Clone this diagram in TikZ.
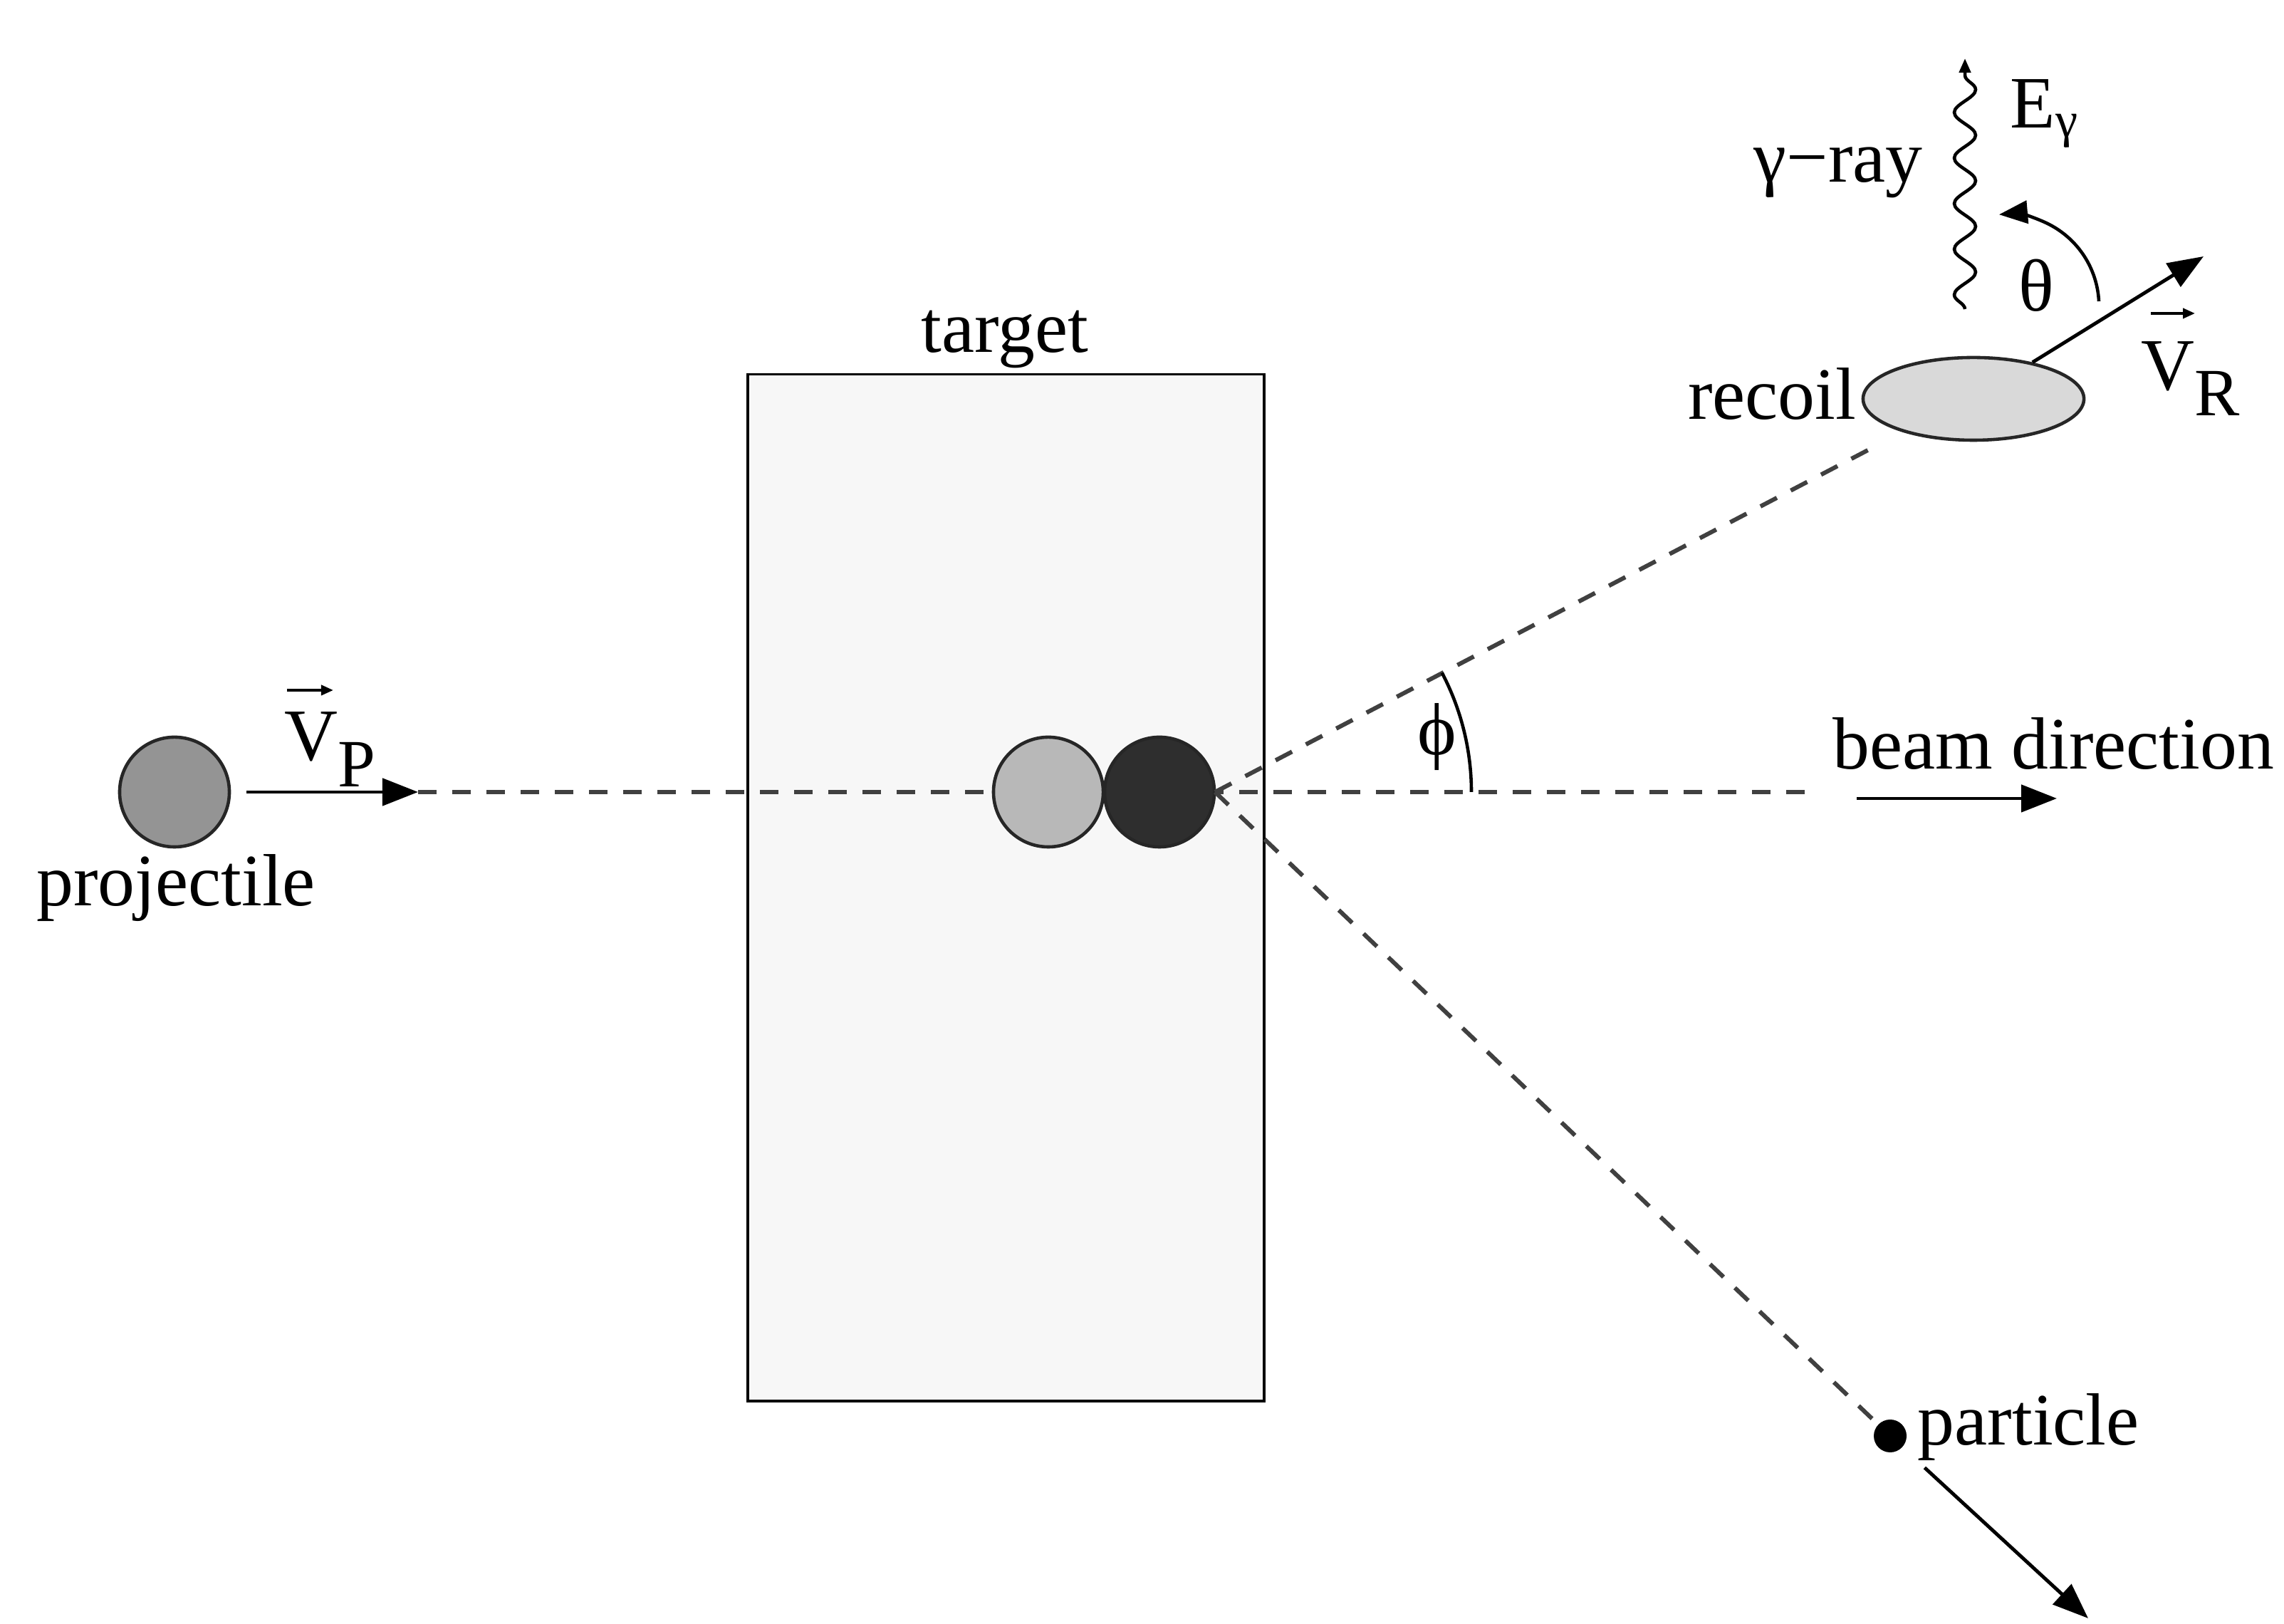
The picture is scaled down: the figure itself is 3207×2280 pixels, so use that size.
\documentclass[tikz,border=0pt]{standalone}
\usepackage{fontspec}
\setmainfont{Liberation Serif}
\usetikzlibrary{arrows.meta,decorations.pathmorphing,shapes.geometric}
\begin{document}
\begin{tikzpicture}[x=0.01cm,y=0.01cm,
  lbl/.style={font=\fontsize{29.5}{35}\selectfont, inner sep=0pt},
  ball/.style={circle, draw=black!85, line width=1.3pt, minimum size=1.54cm, inner sep=0pt},
  traj/.style={dash pattern=on 0.26cm off 0.22cm, line width=1.7pt, draw=black!75},
  vel/.style={line width=1.4pt, -{Triangle[length=0.5cm,width=0.38cm]}},
  vecarr/.style={line width=1.1pt, -{Triangle[length=0.17cm,width=0.14cm]}},
  thin/.style={line width=1.3pt}
]
\useasboundingbox[fill=white] (0,0) rectangle (3207,2280);

% target
\node[draw, line width=1.1pt, fill=black!3, minimum width=7.25cm, minimum height=14.41cm, inner sep=0pt] (target) at (1412.5,1033.5) {};
\node[lbl, anchor=base] (tlabel) at (1411,1785) {target};

% beam line
\coordinate (pv) at (587,1168);
\coordinate (beamend) at (2536,1168);
\draw[traj] (pv) -- (beamend);

% projectile
\node[ball, fill=black!42] (proj) at (245,1168) {};
\draw[vel, shorten <=0.22cm] (proj) -- (pv);
\node[lbl, anchor=base] (projlabel) at (247,1008) {projectile};
\node[lbl, anchor=base west] (vp) at (399,1212) {V\raisebox{-0.35em}{\fontsize{27}{30}\selectfont P}};
\coordinate (vpa) at (403,1311);
\coordinate (vpb) at (468,1311);
\draw[vecarr] (vpa) -- (vpb);

% nuclei in target
\node[ball, fill=black!28] (tnuc) at (1472,1168) {};
\node[ball, fill=black!82] (cnuc) at (1628,1168) {};
\coordinate (O) at (1706,1168);

% recoil
\node[ellipse, draw=black!85, line width=1.3pt, fill=black!15, minimum width=3.1cm, minimum height=1.16cm, inner sep=0pt] (recoil) at (2771,1720) {};
\node[lbl, anchor=base east] (rlabel) at (2607,1691) {recoil};
\coordinate (rend) at (2638,1656);
\draw[traj] (O) -- (rend);

% particle
\node[circle, fill=black, minimum size=0.46cm, inner sep=0pt] (part) at (2654,264) {};
\draw[traj, shorten >=0.06cm] (O) -- (part);
\node[lbl, anchor=base west] (plabel) at (2692,251) {particle};
\coordinate (ptip) at (2932,8);
\draw[vel, shorten <=0.42cm] (part) -- (ptip);

% phi
\draw[thin] ([shift={(0:360)}]O) arc[start angle=0, end angle=27.7, radius=360];
\node[lbl] (philabel) at (2018,1245) {ϕ};

% beam direction
\node[lbl, anchor=base west] (bd) at (2573,1200) {beam direction};
\coordinate (bda) at (2607,1159);
\coordinate (bdb) at (2888,1159);
\draw[vel] (bda) -- (bdb);

% V_R
\coordinate (vrtip) at (3094,1920);
\draw[vel] (recoil) -- (vrtip);
\node[lbl, anchor=base west] (vr) at (3006,1732) {V\raisebox{-0.34em}{\fontsize{27}{30}\selectfont R}};
\coordinate (vra) at (3020,1840);
\coordinate (vrb) at (3082,1840);
\draw[vecarr] (vra) -- (vrb);

% theta
\coordinate (tha) at (2947,1857);
\draw[thin, -{Triangle[length=0.4cm,width=0.32cm]}] (tha) arc[start angle=3, end angle=95, radius=129];
\node[lbl] (thlabel) at (2859,1879) {θ};

% gamma ray
\coordinate (gbot) at (2759,1846);
\coordinate (gtop) at (2759,2198);
\draw[line width=1.3pt, -{Triangle[length=0.2cm,width=0.16cm]}, decorate,
  decoration={snake, amplitude=0.15cm, segment length=0.64cm, post length=0.22cm}] (gbot) -- (gtop);
\node[lbl, anchor=base] (glabel) at (2581,2024) {γ−ray};
\node[lbl, anchor=base west] (eg) at (2822,2100) {E\raisebox{-0.12em}{\fontsize{20}{24}\selectfont γ}};
\end{tikzpicture}
\end{document}
